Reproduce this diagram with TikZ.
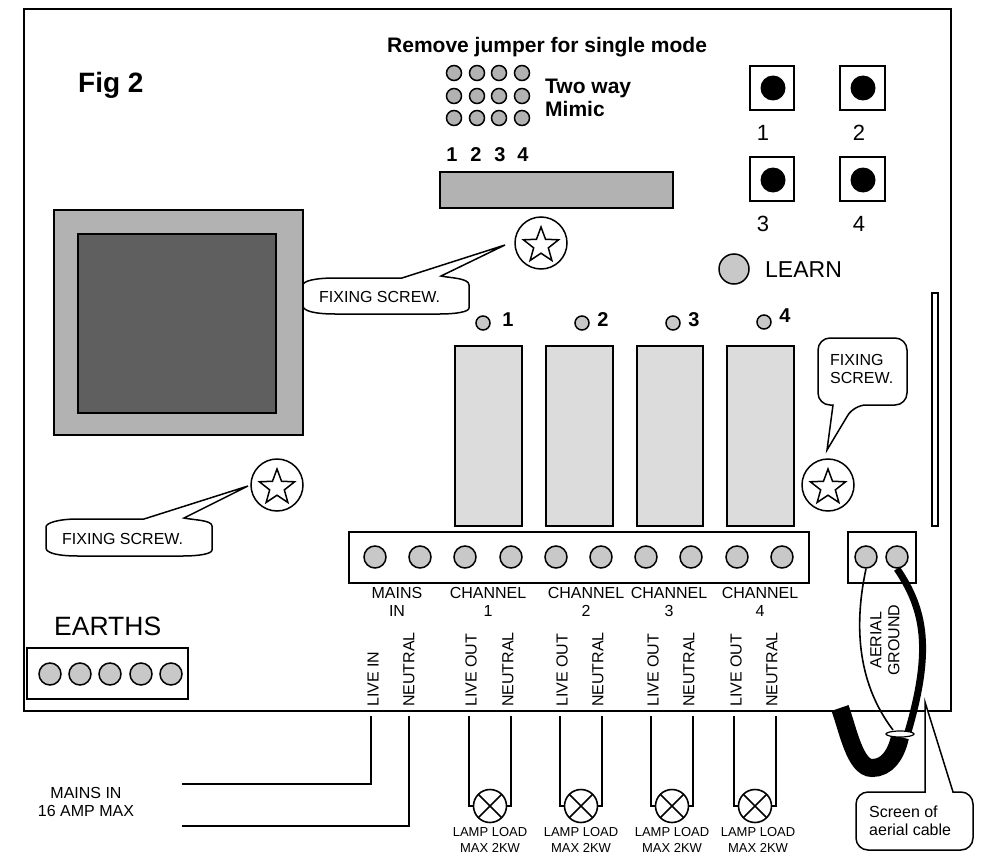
\documentclass[tikz,border=0pt]{standalone}
\usepackage{fontspec}
\setmainfont{Liberation Sans}
\usetikzlibrary{shapes.geometric}
\definecolor{panelgray}{HTML}{B2B2B2}
\definecolor{screengray}{HTML}{5F5F5F}
\definecolor{pingray}{HTML}{C8C8C8}
\definecolor{relaygray}{HTML}{DCDCDC}
\tikzset{
	board/.style={draw=black, line width=1.5pt},
	wire/.style={draw=black, line width=1.8pt},
	callout/.style={draw=black, line width=1.5pt, fill=white},
	pin/.style={circle, draw=black, line width=1.5pt, fill=pingray, inner sep=0pt, minimum size=22pt},
	jumperpin/.style={pin, fill=panelgray, minimum size=15pt},
	ledpin/.style={pin, minimum size=14pt},
	knob/.style={circle, fill=black, inner sep=0pt, minimum size=25pt},
	screwhole/.style={circle, draw=black, line width=1.5pt, inner sep=0pt, minimum size=52pt},
	screwstar/.style={star, star points=5, star point ratio=2.4, draw=black, line width=1.5pt, inner sep=0pt, minimum size=37pt},
	lamp/.style={circle, draw=black, line width=1.6pt, fill=white, inner sep=0pt, minimum size=33pt,
		path picture={\draw[line width=1.5pt] (path picture bounding box.north west) -- (path picture bounding box.south east) (path picture bounding box.north east) -- (path picture bounding box.south west);}},
	txt/.style={inner sep=0pt, align=center, font=\fontsize{16}{18}\selectfont},
	bold/.style={inner sep=0pt, align=left, font=\fontsize{20}{23}\bfseries\selectfont},
	boldhead/.style={inner sep=0pt, align=left, anchor=west, font=\fontsize{21}{23}\bfseries\selectfont},
	upright/.style={txt, rotate=90, anchor=west},
	lamptxt/.style={inner sep=0pt, align=center, font=\fontsize{13}{15.5}\selectfont},
}
\begin{document}
\begin{tikzpicture}[x=1pt,y=-1pt]
	\useasboundingbox (0,0) rectangle (982,856);
	\draw[line width=2pt] (24,9) rectangle (951,711);
	\node[anchor=base west, inner sep=0pt, font=\fontsize{28}{30}\bfseries\selectfont] (figlabel) at (78,93) {Fig 2};
	\node[boldhead] (jumpertitle) at (387,47) {Remove jumper for single mode};
	%
	\node[jumperpin] (ja1) at (454,73) {};
	\node[jumperpin] (ja2) at (477,73) {};
	\node[jumperpin] (ja3) at (499,73) {};
	\node[jumperpin] (ja4) at (522,73) {};
	\node[jumperpin] (jb1) at (454,96) {};
	\node[jumperpin] (jb2) at (477,96) {};
	\node[jumperpin] (jb3) at (499,96) {};
	\node[jumperpin] (jb4) at (522,96) {};
	\node[jumperpin] (jc1) at (454,118) {};
	\node[jumperpin] (jc2) at (477,118) {};
	\node[jumperpin] (jc3) at (499,118) {};
	\node[jumperpin] (jc4) at (522,118) {};
	\node[boldhead] (twoway) at (545,98) {Two way\\Mimic};
	\node[bold] (jn1) at (452,155) {1};
	\node[bold] (jn2) at (476,155) {2};
	\node[bold] (jn3) at (500,155) {3};
	\node[bold] (jn4) at (523,155) {4};
	\draw[board, fill=panelgray] (440,172) rectangle (673,208);
	%
	\draw[board, fill=panelgray] (54,210) rectangle (303,435);
	\draw[board, fill=screengray] (78,234) rectangle (276,413);
	%
	\draw[board] (750,66) rectangle (794,110);
	\draw[board] (840,66) rectangle (885,110);
	\draw[board] (750,157) rectangle (794,201);
	\draw[board] (840,157) rectangle (885,201);
	\node[knob] (knoba) at (773,88) {};
	\node[knob] (knobb) at (863,88) {};
	\node[knob] (knobc) at (773,180) {};
	\node[knob] (knobd) at (863,180) {};
	\node[anchor=base, inner sep=0pt, font=\fontsize{22}{24}\selectfont] (btna) at (763,141) {1};
	\node[anchor=base, inner sep=0pt, font=\fontsize{22}{24}\selectfont] (btnb) at (859,141) {2};
	\node[anchor=base, inner sep=0pt, font=\fontsize{22}{24}\selectfont] (btnc) at (763,231) {3};
	\node[anchor=base, inner sep=0pt, font=\fontsize{22}{24}\selectfont] (btnd) at (859,231) {4};
	\node[pin, minimum size=30pt] (learnpin) at (734,269) {};
	\node[anchor=base west, inner sep=0pt, font=\fontsize{23}{25}\selectfont] (learn) at (765,277) {LEARN};
	%
	\node[screwhole] (holea) at (541,243) {};
	\node[screwstar] (stara) at (541,245.5) {};
	\node[screwhole] (holeb) at (828,485) {};
	\node[screwstar] (starb) at (828,487.5) {};
	\node[screwhole] (holec) at (277,485) {};
	\node[screwstar] (starc) at (277,487.5) {};
	%
	\draw[callout] (402,278) -- (505,245) -- (441,276) .. controls (450,278) and (469,278) .. (469,285) -- (469,308) .. controls (469,312) and (455,314) .. (440,314) -- (335,314) .. controls (315,314) and (303,311) .. (303,306) -- (303,285) .. controls (303,281) and (315,278) .. (335,278) -- cycle;
	\node[txt, anchor=west] (fixa) at (319,297) {FIXING SCREW.};
	\draw[callout] (144,519) -- (248,486) -- (184,518) .. controls (193,520) and (212,520) .. (212,526) -- (212,550) .. controls (212,554) and (198,556) .. (183,556) -- (78,556) .. controls (58,556) and (46,553) .. (46,548) -- (46,527) .. controls (46,523) and (58,519) .. (78,519) -- cycle;
	\node[txt, anchor=west] (fixc) at (62,539) {FIXING SCREW.};
	\draw[callout] (827,450) -- (833,405) [rounded corners=12pt] -- (818,405) -- (818,338) -- (907,338) -- (907,405) -- (854,405) [sharp corners] -- cycle;
	\node[txt, anchor=west, align=left] (fixb) at (830,369) {FIXING\\SCREW.};
	%
	\node[ledpin] (leda) at (483,323) {};
	\node[ledpin] (ledb) at (582,323) {};
	\node[ledpin] (ledc) at (673,323) {};
	\node[ledpin] (ledd) at (764,322) {};
	\node[bold] (chna) at (508,320) {1};
	\node[bold] (chnb) at (603,320) {2};
	\node[bold] (chnc) at (694,320) {3};
	\node[bold] (chnd) at (785,316) {4};
	\draw[board, fill=relaygray] (455,346) rectangle (522,526);
	\draw[board, fill=relaygray] (546,346) rectangle (613,526);
	\draw[board, fill=relaygray] (637,346) rectangle (703,526);
	\draw[board, fill=relaygray] (727,346) rectangle (794,526);
	\draw[board] (932,293) rectangle (938,526);
	%
	\draw[board] (349,532) rectangle (809,583);
	\node[pin] (ta) at (375,557) {};
	\node[pin] (tb) at (420,557) {};
	\node[pin] (tc) at (465,557) {};
	\node[pin] (td) at (511,557) {};
	\node[pin] (te) at (556,557) {};
	\node[pin] (tf) at (601,557) {};
	\node[pin] (tg) at (646,557) {};
	\node[pin] (th) at (691,557) {};
	\node[pin] (ti) at (737,557) {};
	\node[pin] (tj) at (782,557) {};
	\draw[board] (848,532) rectangle (916,583);
	\node[pin] (aeriala) at (866,557) {};
	\node[pin] (aerialb) at (897,557) {};
	%
	\node[txt] (lblmains) at (397,602) {MAINS\\IN};
	\node[txt] (lbla) at (488,602) {CHANNEL\\1};
	\node[txt] (lblb) at (586,602) {CHANNEL\\2};
	\node[txt] (lblc) at (669,602) {CHANNEL\\3};
	\node[txt] (lbld) at (760,602) {CHANNEL\\4};
	\node[upright] (vlivein) at (373,707) {LIVE IN};
	\node[upright] (vneutral) at (409,707) {NEUTRAL};
	\node[upright] (vlivea) at (471,707) {LIVE OUT};
	\node[upright] (vneuta) at (508,707) {NEUTRAL};
	\node[upright] (vliveb) at (562,707) {LIVE OUT};
	\node[upright] (vneutb) at (598,707) {NEUTRAL};
	\node[upright] (vlivec) at (653,707) {LIVE OUT};
	\node[upright] (vneutc) at (689,707) {NEUTRAL};
	\node[upright] (vlived) at (736,707) {LIVE OUT};
	\node[upright] (vneutd) at (772,707) {NEUTRAL};
	\node[txt, rotate=90] (vaerial) at (885,640) {AERIAL\\GROUND};
	%
	\node[anchor=base west, inner sep=0pt, font=\fontsize{26.5}{28}\selectfont] (earths) at (54,635) {EARTHS};
	\draw[board] (27,648) rectangle (188,699);
	\node[pin] (ea) at (50,674) {};
	\node[pin] (eb) at (80,674) {};
	\node[pin] (ec) at (110,674) {};
	\node[pin] (ed) at (141,674) {};
	\node[pin] (ee) at (171,674) {};
	%
	\coordinate (livein) at (371,716);
	\coordinate (neutin) at (409,716);
	\coordinate (mainsa) at (182,784);
	\coordinate (mainsb) at (182,826);
	\draw[wire] (livein) |- (mainsa);
	\draw[wire] (neutin) |- (mainsb);
	\node[txt] (mainslbl) at (86,802) {MAINS IN\\16 AMP MAX};
	%
	\node[lamp] (lampa) at (490,806) {};
	\node[lamp] (lampb) at (581,806) {};
	\node[lamp] (lampc) at (672,806) {};
	\node[lamp] (lampd) at (755,806) {};
	\coordinate (outa) at (469,716);
	\coordinate (reta) at (511,716);
	\coordinate (outb) at (560,716);
	\coordinate (retb) at (602,716);
	\coordinate (outc) at (651,716);
	\coordinate (retc) at (693,716);
	\coordinate (outd) at (734,716);
	\coordinate (retd) at (776,716);
	\draw[wire] (outa) |- (lampa.west);
	\draw[wire] (reta) |- (lampa.east);
	\draw[wire] (outb) |- (lampb.west);
	\draw[wire] (retb) |- (lampb.east);
	\draw[wire] (outc) |- (lampc.west);
	\draw[wire] (retc) |- (lampc.east);
	\draw[wire] (outd) |- (lampd.west);
	\draw[wire] (retd) |- (lampd.east);
	\node[lamptxt] (loada) at (490,840) {LAMP LOAD\\MAX 2KW};
	\node[lamptxt] (loadb) at (581,840) {LAMP LOAD\\MAX 2KW};
	\node[lamptxt] (loadc) at (672,840) {LAMP LOAD\\MAX 2KW};
	\node[lamptxt] (loadd) at (758,840) {LAMP LOAD\\MAX 2KW};
	%
	\draw[line width=1.6pt] (aeriala.south) .. controls (855,620) and (855,680) .. (893,730);
	\draw[line width=7pt] (aerialb.south) .. controls (925,610) and (932,650) .. (908,732);
	\draw[line width=18pt] (840,708) .. controls (848,730) and (855,768) .. (872,768) .. controls (887,768) and (896,755) .. (900,737);
	\node[ellipse, draw=black, line width=1.2pt, fill=white, inner sep=0pt, minimum width=28pt, minimum height=6pt] (ring) at (900,734) {};
	\draw[callout] (925,702) -- (925,792) [rounded corners=12pt] -- (856,792) -- (856,850) -- (973,850) -- (973,792) [sharp corners] -- (953,792) -- cycle;
	\node[txt, anchor=west, align=left] (screenlbl) at (869,821) {Screen of\\aerial cable};
\end{tikzpicture}
\end{document}
